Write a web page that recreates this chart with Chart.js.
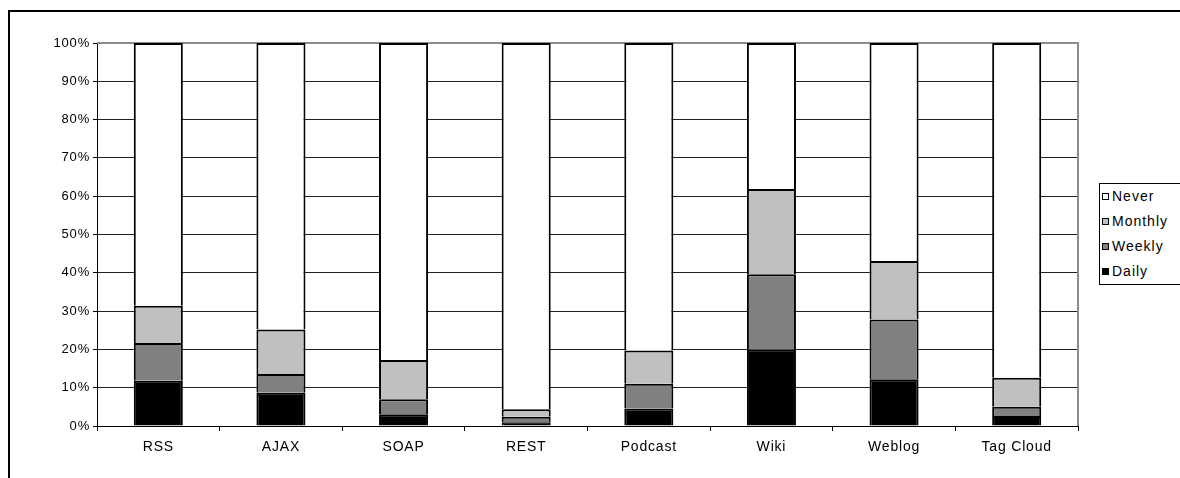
<!DOCTYPE html>
<html>
<head>
<meta charset="utf-8">
<script src="https://cdn.jsdelivr.net/npm/chart.js@4.4.1/dist/chart.umd.min.js"></script>
<style>
    html, body { margin: 0; padding: 0; background: #fff; overflow: hidden; }
    #wrap { position: relative; width: 1180px; height: 478px; overflow: hidden; }
    #usageChart { position: absolute; left: 0; top: 0; }
    #frame {
        position: absolute; left: 8px; top: 10px; width: 1200px; height: 500px;
        border-left: 2px solid #000; border-top: 2px solid #000;
        pointer-events: none;
    }
    #legend {
        position: absolute; left: 1099px; top: 183px; width: 100px; height: 100px;
        border: 1px solid #000; background: #fff;
        font-family: "Liberation Sans", Arial, sans-serif; font-size: 14px; color: #000;
    }
    .legend-row { position: absolute; left: 2px; height: 16px; line-height: 16px; white-space: nowrap; letter-spacing: 1px; }
    .legend-box { display: inline-block; width: 5px; height: 5px; border: 1.5px solid #000; margin-right: 3px; vertical-align: 1px; }
</style>
</head>
<body>
<div id="wrap">
    <canvas id="usageChart" width="1180" height="478"></canvas>
    <div id="frame"></div>
    <div id="legend"></div>
</div>
<script>
// technologies on the x axis
const technologies = ['RSS', 'AJAX', 'SOAP', 'REST', 'Podcast', 'Wiki', 'Weblog', 'Tag Cloud'];

// share of respondents (%) per usage frequency, stacked bottom to top
const daily   = [11.8, 8.7, 3.1, 1.0, 4.6, 19.9, 12.2, 2.6];
const weekly  = [9.9, 4.9, 3.9, 1.4, 6.4, 19.7, 15.6, 2.4];
const monthly = [9.7, 11.6, 10.2, 2.0, 8.7, 22.3, 15.3, 7.6];
const never   = [68.6, 74.8, 82.8, 95.6, 80.3, 38.1, 56.9, 87.4];

const percentTicks = [0, 10, 20, 30, 40, 50, 60, 70, 80, 90, 100];

const FONT = 'Liberation Sans, Arial, sans-serif';

const series = [
    { label: 'Daily', data: daily, color: '#000000' },
    { label: 'Weekly', data: weekly, color: '#808080' },
    { label: 'Monthly', data: monthly, color: '#c0c0c0' },
    { label: 'Never', data: never, color: '#ffffff' }
];

// grey outline on the top and right of the plot area
const plotFrame = {
    id: 'plotFrame',
    beforeDatasetsDraw(chart) {
        const a = chart.chartArea;
        const ctx = chart.ctx;
        ctx.save();
        ctx.strokeStyle = '#8c8c8c';
        ctx.lineWidth = 2;
        ctx.beginPath();
        ctx.moveTo(a.left, a.top);
        ctx.lineTo(a.right, a.top);
        ctx.lineTo(a.right, a.bottom);
        ctx.stroke();
        ctx.restore();
    }
};

// slightly wider letter spacing for the axis text
const spacedText = {
    id: 'spacedText',
    beforeInit(chart) { chart.ctx.letterSpacing = '0.8px'; },
    beforeDraw(chart) { chart.ctx.letterSpacing = '0.8px'; }
};

const chart = new Chart(document.getElementById('usageChart'), {
    type: 'bar',
    data: {
        labels: technologies,
        datasets: series.map(s => ({
            label: s.label,
            data: s.data,
            backgroundColor: s.color,
            borderColor: '#000',
            borderWidth: 2,
            borderSkipped: 'bottom',
            categoryPercentage: 1.0,
            barPercentage: 0.4
        }))
    },
    options: {
        responsive: false,
        animation: false,
        layout: { padding: { top: 43, right: 102, bottom: 0, left: 0 } },
        plugins: {
            legend: { display: false },
            tooltip: { enabled: false }
        },
        scales: {
            x: {
                stacked: true,
                grid: {
                    offset: true,
                    drawOnChartArea: false,
                    color: '#000',
                    tickLength: 5
                },
                border: { color: '#000', width: 1 },
                ticks: {
                    color: '#000',
                    padding: 8,
                    maxRotation: 0,
                    font: { family: FONT, size: 14 }
                },
                afterFit(scale) { scale.height = 52; }
            },
            y: {
                stacked: true,
                min: 0,
                max: 100,
                afterBuildTicks(scale) {
                    scale.ticks = percentTicks.map(v => ({ value: v }));
                },
                grid: {
                    color: ctx => (ctx.tick && ctx.tick.value === 100 ? '#8c8c8c' : '#222'),
                    tickColor: '#000',
                    tickLength: 4,
                    lineWidth: 1
                },
                border: { color: '#000', width: 1 },
                ticks: {
                    color: '#000',
                    padding: 3,
                    font: { family: FONT, size: 13 },
                    callback: v => v + '%'
                },
                afterFit(scale) { scale.width = 97; }
            }
        }
    },
    plugins: [plotFrame, spacedText]
});

// legend box, listed top series first
const legendEl = document.getElementById('legend');
chart.data.datasets.slice().reverse().forEach((ds, i) => {
    const row = document.createElement('div');
    row.className = 'legend-row';
    row.style.top = (4 + i * 25) + 'px';
    const box = document.createElement('span');
    box.className = 'legend-box';
    box.style.background = ds.backgroundColor;
    row.appendChild(box);
    row.appendChild(document.createTextNode(ds.label));
    legendEl.appendChild(row);
});
</script>
</body>
</html>
